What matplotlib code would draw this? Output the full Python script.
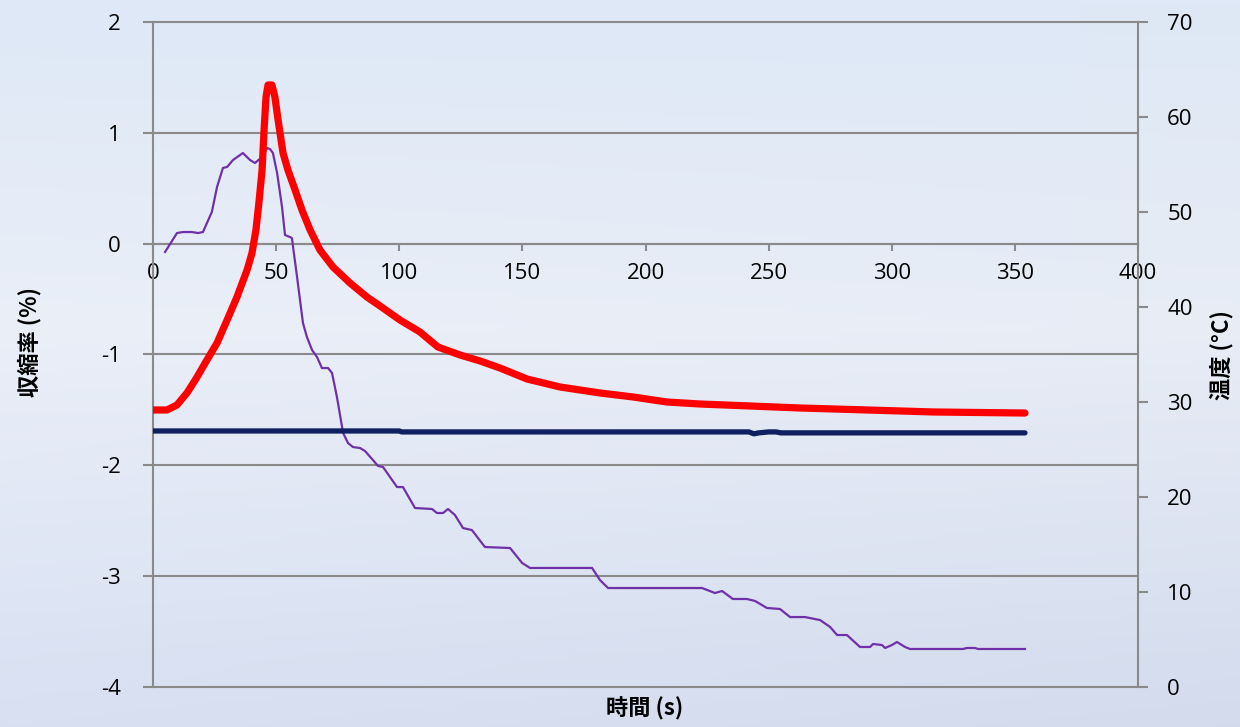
import numpy as np
import matplotlib
matplotlib.use("Agg")
import matplotlib.pyplot as plt

plt.rcParams['font.family'] = ['Open Sans', 'DejaVu Sans']

# Shrinkage (%) vs time (s)
shrink_t = [4.9, 9.75, 12.2, 15.8, 18.3, 20.3, 21.9, 23.9, 26.0, 28.4, 30.1, 32.5,
            36.5, 39.4, 41.4, 44.3, 46.3, 47.5, 48.7, 50.4, 52.4, 53.6, 55.6, 56.4,
            58.5, 60.9, 62.5, 64.6, 66.6, 68.6, 71.1, 72.7, 74.7, 77.2, 79.2, 81.2,
            84.1, 86.1, 89.3, 91.4, 93.4, 99.1, 101.5, 106.4, 113.3, 115.3, 117.8,
            119.8, 122.6, 125.9, 129.5, 134.8, 145.0, 149.9, 153.1, 178.3, 181.5,
            184.8, 223.0, 228.2, 231.1, 235.5, 241.2, 244.5, 249.3, 254.6, 258.7,
            264.8, 270.9, 275.0, 277.8, 281.8, 287.1, 291.2, 292.4, 296.0, 297.3,
            300.1, 302.1, 305.4, 307.4, 328.9, 330.6, 333.8, 335.0, 354.1]
shrink_v = [-0.075, 0.096, 0.105, 0.105, 0.096, 0.105, 0.186, 0.286, 0.511, 0.683,
            0.692, 0.755, 0.818, 0.755, 0.728, 0.782, 0.863, 0.854, 0.818, 0.638,
            0.331, 0.078, 0.060, 0.051, -0.300, -0.716, -0.842, -0.960, -1.023,
            -1.122, -1.122, -1.167, -1.384, -1.708, -1.799, -1.835, -1.844, -1.871,
            -1.952, -2.006, -2.015, -2.196, -2.196, -2.385, -2.394, -2.430, -2.430,
            -2.394, -2.448, -2.566, -2.584, -2.737, -2.746, -2.881, -2.926, -2.926,
            -3.035, -3.107, -3.107, -3.152, -3.134, -3.206, -3.206, -3.224, -3.287,
            -3.296, -3.369, -3.369, -3.396, -3.459, -3.531, -3.531, -3.639, -3.639,
            -3.612, -3.621, -3.648, -3.621, -3.594, -3.639, -3.657, -3.657, -3.648,
            -3.648, -3.657, -3.657]

# Specimen temperature (degC) vs time (s)
temp_t = [0.0, 5.7, 9.7, 13.8, 17.9, 21.9, 26.0, 30.1, 34.1, 38.2, 40.2, 41.8,
          43.0, 44.3, 45.1, 45.9, 46.7, 48.3, 49.5, 50.8, 52.8, 54.8, 57.7, 60.5,
          63.8, 67.8, 73.1, 80.0, 86.9, 93.4, 100.3, 108.4, 115.7, 124.7,
          132.8, 140.9, 151.9, 165.3, 181.5, 194.9, 208.7, 222.1, 242.4, 262.7,
          290.0, 316.8, 354.1]
temp_v = [29.16, 29.16, 29.68, 30.95, 32.63, 34.42, 36.21, 38.63, 41.05, 43.89,
          45.68, 48.11, 50.95, 54.42, 58.63, 62.11, 63.37, 63.37, 62.11, 59.68,
          56.21, 54.42, 52.32, 50.21, 48.11, 46.0, 44.21, 42.53, 41.05, 39.89,
          38.63, 37.37, 35.79, 34.95, 34.32, 33.58, 32.42, 31.58, 30.95,
          30.53, 30.0, 29.79, 29.58, 29.37, 29.16, 28.95, 28.84]

# Ambient temperature (degC) vs time (s)
amb_t = [0.0, 100.0, 101.0, 242.0, 244.0, 246.0, 250.0, 253.0, 255.0, 354.1]
amb_v = [26.95, 26.95, 26.85, 26.85, 26.65, 26.75, 26.85, 26.85, 26.75, 26.75]

x_ticks = [0, 50, 100, 150, 200, 250, 300, 350, 400]
left_ticks = [-4, -3, -2, -1, 0, 1, 2]
right_ticks = [0, 10, 20, 30, 40, 50, 60, 70]

GRID = '#8a8a8a'
W, H = 1240, 727
fig = plt.figure(figsize=(W / 100, H / 100), dpi=100)

# soft blue background
bg = fig.add_axes([0, 0, 1, 1], zorder=-10)
bg.axis('off')
yy, xx = np.mgrid[0:1:200j, 0:1:300j]
top = np.array([222, 232, 246]) / 255
mid = np.array([234, 239, 248]) / 255
bot = np.array([216, 224, 242]) / 255
f = yy[..., None]
col = np.where(f < 0.45, top + (mid - top) * (f / 0.45),
               mid + (bot - mid) * ((f - 0.45) / 0.55))
col = col - 0.02 * (xx[..., None] * f)
col = np.clip(col, 0, 1)
bg.imshow(col, aspect='auto', extent=[0, 1, 0, 1], origin='upper')

ax = fig.add_axes([153 / W, 1 - 687 / H, (1138 - 153) / W, (687 - 22) / H])
ax.patch.set_alpha(0)
ax.set_xlim(0, 400)
ax.set_ylim(-4, 2)

for v in left_ticks:
    ax.axhline(v, color=GRID, lw=1.5, zorder=0.5, clip_on=False)

for s in ['top', 'right']:
    ax.spines[s].set_visible(False)
ax.spines['left'].set_color(GRID)
ax.spines['left'].set_linewidth(1.5)
ax.spines['bottom'].set_position(('data', 0))
ax.spines['bottom'].set_color(GRID)
ax.spines['bottom'].set_linewidth(1.5)

ax.set_xticks(x_ticks)
ax.set_xticklabels([str(v) for v in x_ticks])
ax.set_yticks(left_ticks)
ax.set_yticklabels([str(v) for v in left_ticks])
ax.tick_params(axis='x', direction='out', length=5, width=1.5, color=GRID,
               labelsize=16, pad=9)
ax.tick_params(axis='y', direction='out', length=7, width=1.5, color=GRID,
               labelsize=16, pad=16)

ax.plot(shrink_t, shrink_v, color='#7030a8', lw=1.6, zorder=3)

ax2 = ax.twinx()
ax2.set_ylim(0, 70)
ax2.set_yticks(right_ticks)
ax2.set_yticklabels([str(v) for v in right_ticks])
for s in ['top', 'left', 'bottom']:
    ax2.spines[s].set_visible(False)
ax2.spines['right'].set_color(GRID)
ax2.spines['right'].set_linewidth(1.5)
ax2.tick_params(axis='y', direction='out', length=7, width=1.5, color=GRID,
                labelsize=16, pad=14)

ax2.plot(amb_t, amb_v, color='#0f1f5f', lw=3.8, solid_capstyle='round', zorder=3)
ax2.plot(temp_t, temp_v, color='#ff0000', lw=5.2, solid_capstyle='round',
         solid_joinstyle='round', zorder=4)

cjk = ['Noto Sans CJK JP', 'DejaVu Sans']
fig.text(645 / W, 1 - 709 / H, '時間 (s)', family=cjk, fontweight='bold',
         fontsize=16, ha='center', va='center')
fig.text(30 / W, 1 - 342 / H, '収縮率 (%)', family=cjk, fontweight='bold',
         fontsize=16, ha='center', va='center', rotation=90)
fig.text(1222 / W, 1 - 355 / H, '温度 (°C)', family=cjk, fontweight='bold',
         fontsize=16, ha='center', va='center', rotation=90)

fig.savefig('out.png', dpi=100)
